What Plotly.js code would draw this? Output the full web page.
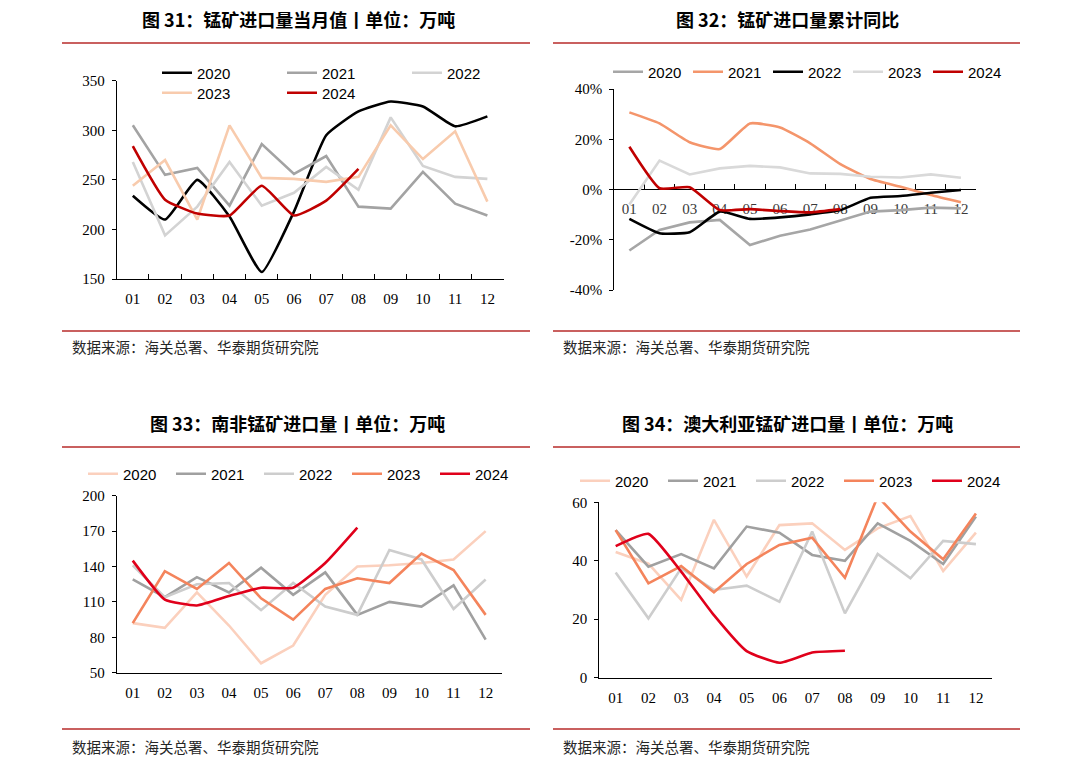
<!DOCTYPE html>
<html><head><meta charset="utf-8">
<script src="https://cdn.plot.ly/plotly-3.0.1.min.js"></script>
<style>html,body{margin:0;padding:0;background:#fff;} #chart{width:1080px;height:762px;}</style>
</head><body><div id="chart"></div>
<script>
// ---------- data ----------
const months = ['01','02','03','04','05','06','07','08','09','10','11','12'];
const years = ['2020','2021','2022','2023','2024'];

// Fig 31: manganese ore imports, monthly (10k t)
const total2020 = [234, 210, 250, 213, 157, 218, 295, 319, 329, 324, 304, 314];
const total2021 = [305, 255, 262, 224, 286, 256, 274, 223, 221, 258, 226, 214];
const total2022 = [268, 194, 223, 268, 224, 237, 263, 240, 313, 264, 253, 251];
const total2023 = [244, 270, 210, 305, 252, 251, 248, 253, 305, 271, 299, 228];
const total2024 = [284, 230, 216, 214, 244, 214, 229, 261];

// Fig 32: cumulative YoY (%)
const yoy2020 = [-24.3, -16.1, -13.1, -12.1, -22.1, -18.4, -15.9, -12.5, -8.8, -8.2, -7.2, -7.5];
const yoy2021 = [30.7, 26.3, 18.8, 16.1, 26.3, 24.7, 18.4, 10.1, 4.2, 1.1, -2.2, -5.1];
const yoy2022 = [-11.7, -17.4, -17.0, -8.8, -11.7, -11.1, -9.9, -8.2, -3.3, -2.6, -1.3, -0.2];
const yoy2023 = [-6.0, 11.5, 6.0, 8.4, 9.4, 8.8, 6.4, 6.2, 5.1, 4.8, 6.0, 4.7];
const yoy2024 = [17.0, 0.5, 0.9, -8.2, -7.8, -8.6, -9.1, -7.8];
const yoyTickVals = [-40, -20, 0, 20, 40];
const yoyTickText = ['-40%', '-20%', '0%', '20%', '40%'];

// Fig 33: South Africa (10k t)
const sa2020 = [92, 88, 118, 90, 58, 73, 116, 140, 141, 143, 146, 170];
const sa2021 = [129, 114, 131, 118, 139, 116, 135, 99, 110, 106, 124, 78];
const sa2022 = [141, 114, 125, 126, 103, 126, 106, 99, 154, 146, 104, 129];
const sa2023 = [92, 136, 121, 143, 113, 95, 121, 130, 126, 151, 137, 99];
const sa2024 = [145, 112, 107, 115, 122, 122, 143, 173];

// Fig 34: Australia (10k t)
const au2020 = [43, 39, 26.6, 54, 34.6, 52.2, 52.8, 43.7, 51.1, 55.3, 36.5, 49.6];
const au2021 = [50.5, 38, 42.3, 37.4, 51.7, 49.6, 42, 40, 52.8, 46.8, 38.9, 55.1];
const au2022 = [36, 20.3, 37.4, 30, 31.5, 26, 50, 22, 42.3, 34, 46.8, 45.7];
const au2023 = [50.5, 32.3, 38.2, 29.2, 38.9, 45.4, 47.9, 34.2, 62, 50, 40.5, 56.2];
const au2024 = [45, 49.2, 36.3, 21.4, 9.1, 5.1, 8.6, 9.2];

// ---------- styling ----------
const W = 1080, H = 762;
const px = v => v / W;
const py = v => 1 - v / H;
const tickFont = {family: 'Liberation Serif, Times New Roman, serif', size: 15, color: '#000'};
const legFont = {family: 'Liberation Sans, Arial, sans-serif', size: 15, color: '#000'};

function line(xa, ya, name, y, color, legend, spline) {
  return {
    type: 'scatter', mode: 'lines', x: months.slice(0, y.length), y: y, name: name,
    xaxis: xa, yaxis: ya, legend: legend,
    line: {color: color, width: 2.6, shape: spline ? 'spline' : 'linear', smoothing: 0.45},
    hoverinfo: 'skip'
  };
}

const traces = [
  // panel 1
  line('x', 'y', years[0], total2020, '#000000', 'legend', true),
  line('x', 'y', years[1], total2021, '#a3a3a3', 'legend', false),
  line('x', 'y', years[2], total2022, '#d3d3d3', 'legend', false),
  line('x', 'y', years[3], total2023, '#f8cbad', 'legend5', false),
  line('x', 'y', years[4], total2024, '#c00000', 'legend5', true),
  // panel 2
  line('x2', 'y2', years[0], yoy2020, '#a6a6a6', 'legend2', false),
  line('x2', 'y2', years[1], yoy2021, '#f4956b', 'legend2', true),
  line('x2', 'y2', years[2], yoy2022, '#000000', 'legend2', true),
  line('x2', 'y2', years[3], yoy2023, '#d9d9d9', 'legend2', false),
  line('x2', 'y2', years[4], yoy2024, '#c00000', 'legend2', true),
  // panel 3
  line('x3', 'y3', years[0], sa2020, '#fbd0bd', 'legend3', false),
  line('x3', 'y3', years[1], sa2021, '#a0a0a0', 'legend3', false),
  line('x3', 'y3', years[2], sa2022, '#cdcdcd', 'legend3', false),
  line('x3', 'y3', years[3], sa2023, '#f4845c', 'legend3', false),
  line('x3', 'y3', years[4], sa2024, '#e0001b', 'legend3', true),
  // panel 4
  line('x4', 'y4', years[0], au2020, '#fbd0bd', 'legend4', false),
  line('x4', 'y4', years[1], au2021, '#a0a0a0', 'legend4', false),
  line('x4', 'y4', years[2], au2022, '#cdcdcd', 'legend4', false),
  line('x4', 'y4', years[3], au2023, '#f4845c', 'legend4', false),
  line('x4', 'y4', years[4], au2024, '#e0001b', 'legend4', true)
];

function xAxis(d0, d1, anchor, ticks, extra) {
  return Object.assign({
    domain: [px(d0), px(d1)], anchor: anchor, type: 'category', range: [-0.5, 11.5],
    showgrid: false, zeroline: false, showline: true, linecolor: '#000', linewidth: 1,
    ticks: ticks, tickson: 'boundaries', ticklen: 5, tickcolor: '#000', tickwidth: 1,
    tickfont: tickFont, ticklabelstandoff: 6, fixedrange: true
  }, extra || {});
}
function yAxis(top, bottom, anchor, range, dtick, extra) {
  return Object.assign({
    domain: [py(bottom), py(top)], anchor: anchor, range: range, dtick: dtick, tick0: range[0],
    showgrid: false, zeroline: false, showline: true, linecolor: '#000', linewidth: 1,
    ticks: 'outside', ticklen: 4, tickcolor: '#000', tickwidth: 1,
    tickfont: tickFont, ticklabelstandoff: 4, fixedrange: true
  }, extra || {});
}
function legend(x, y, entrywidth) {
  return {orientation: 'h', x: px(x), y: py(y), xanchor: 'left', yanchor: 'middle',
    font: legFont, bgcolor: 'rgba(0,0,0,0)', borderwidth: 0, itemwidth: 30,
    entrywidth: entrywidth, entrywidthmode: 'pixels', traceorder: 'normal', itemclick: false, itemdoubleclick: false};
}

const titleFont = {family: 'Noto Sans CJK SC, sans-serif', size: 18, color: '#000', weight: 'bold'};
const srcFont = {family: 'Noto Sans CJK SC, sans-serif', size: 14.5, color: '#262626'};
function ann(text, x, y, font, xanchor) {
  return {text: text, x: px(x), y: py(y), xref: 'paper', yref: 'paper', showarrow: false,
    xanchor: xanchor, yanchor: 'middle', font: font};
}
function rule(x0, x1, y) {
  return {type: 'line', xref: 'paper', yref: 'paper', x0: px(x0), x1: px(x1), y0: py(y), y1: py(y),
    line: {color: '#c9605f', width: 2}};
}

const layout = {
  width: W, height: H, margin: {l: 0, r: 0, t: 0, b: 0},
  paper_bgcolor: '#fff', plot_bgcolor: 'rgba(0,0,0,0)', showlegend: true,
  xaxis: xAxis(116.7, 503.5, 'y', 'inside'),
  yaxis: yAxis(80.7, 279, 'x', [150, 350], 50),
  xaxis2: xAxis(614.3, 976, 'free', 'inside', {position: py(189), layer: 'below traces', tickfont: Object.assign({}, tickFont, {color: '#3a3a3a'})}),
  yaxis2: yAxis(89, 290, 'x2', [-40, 40], 20, {tickmode: 'array', tickvals: yoyTickVals, ticktext: yoyTickText}),
  xaxis3: xAxis(116.7, 501.7, 'y3', ''),
  yaxis3: yAxis(495.7, 672.7, 'x3', [50, 200], 30),
  xaxis4: xAxis(599.3, 992.3, 'y4', ''),
  yaxis4: yAxis(502.3, 677.7, 'x4', [0, 60], 20),
  legend: legend(157, 73, 80),
  legend5: legend(157, 93, 80),
  legend2: legend(608, 72, 35),
  legend3: legend(83, 474, 43),
  legend4: legend(575, 481, 43),
  annotations: [
    ann('图 31：锰矿进口量当月值丨单位：万吨', 298, 19, titleFont, 'center'),
    ann('图 32：锰矿进口量累计同比', 787, 19, titleFont, 'center'),
    ann('图 33：南非锰矿进口量丨单位：万吨', 297, 423, titleFont, 'center'),
    ann('图 34：澳大利亚锰矿进口量丨单位：万吨', 787, 423, titleFont, 'center'),
    ann('数据来源：海关总署、华泰期货研究院', 70, 347, srcFont, 'left'),
    ann('数据来源：海关总署、华泰期货研究院', 561, 347, srcFont, 'left'),
    ann('数据来源：海关总署、华泰期货研究院', 70, 746, srcFont, 'left'),
    ann('数据来源：海关总署、华泰期货研究院', 561, 746, srcFont, 'left')
  ],
  shapes: [
    rule(62, 530, 43), rule(553, 1020, 43),
    rule(62, 530, 331), rule(553, 1020, 331),
    rule(62, 530, 447), rule(553, 1020, 447),
    rule(62, 530, 729), rule(553, 1020, 729)
  ]
};

Plotly.newPlot('chart', traces, layout, {displayModeBar: false, staticPlot: true});
</script>
</body></html>
